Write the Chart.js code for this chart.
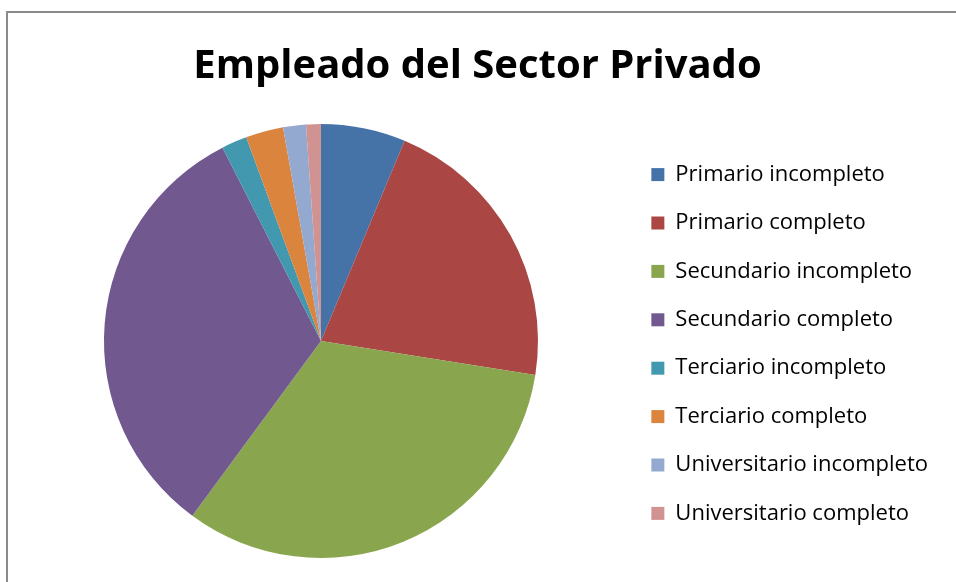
<!DOCTYPE html>
<html>
<head>
<meta charset="utf-8">
<script src="https://cdn.jsdelivr.net/npm/chart.js@4"></script>
<style>
  html, body { margin: 0; padding: 0; background: #fff; }
  #wrap { position: relative; width: 956px; height: 582px; overflow: hidden; }
  /* marco gris del gráfico (solo arriba e izquierda, como la captura) */
  #marco { position: absolute; left: 6px; top: 11px; right: -10px; bottom: -10px;
           border-left: 2px solid #8a8a8a; border-top: 2px solid #8a8a8a; }
  #grafico { position: absolute; left: 0; top: 0; }
</style>
</head>
<body>
<div id="wrap">
  <div id="marco"></div>
  <canvas id="grafico" width="956" height="582"></canvas>
</div>
<script>
// --- DATOS ---
const categorias = [
    'Primario incompleto',
    'Primario completo',
    'Secundario incompleto',
    'Secundario completo',
    'Terciario incompleto',
    'Terciario completo',
    'Universitario incompleto',
    'Universitario completo'
];
const porcentajes = [6.3, 21.2, 32.6, 32.4, 1.9, 2.8, 1.7, 1.1];
const colores = ['#4572A7', '#AA4643', '#89A54E', '#71588F', '#4198AF', '#DB843D', '#93A9CF', '#D19392'];

Chart.defaults.font.family = "'Open Sans', sans-serif";
Chart.defaults.color = '#000';

new Chart(document.getElementById('grafico').getContext('2d'), {
    type: 'pie',
    data: {
        labels: categorias,
        datasets: [{
            data: porcentajes,
            backgroundColor: colores,
            borderWidth: 0
        }]
    },
    options: {
        responsive: false,
        animation: false,
        layout: {
            padding: { top: 12, bottom: 24, left: 17, right: 18 }
        },
        plugins: {
            title: {
                display: true,
                text: 'Empleado del Sector Privado',
                color: '#000',
                font: { size: 40, weight: 'bold' },
                padding: { top: 31, bottom: 33 }
            },
            legend: {
                display: true,
                position: 'right',
                align: 'start',
                // título vacío: solo sirve de espacio arriba de la leyenda
                title: { display: true, text: '', padding: 56.6, font: { size: 10 } },
                labels: {
                    boxWidth: 13,
                    boxHeight: 13,
                    padding: 26.4,
                    color: '#000',
                    font: { size: 22 }
                }
            },
            tooltip: { enabled: false }
        }
    }
});
</script>
</body>
</html>
